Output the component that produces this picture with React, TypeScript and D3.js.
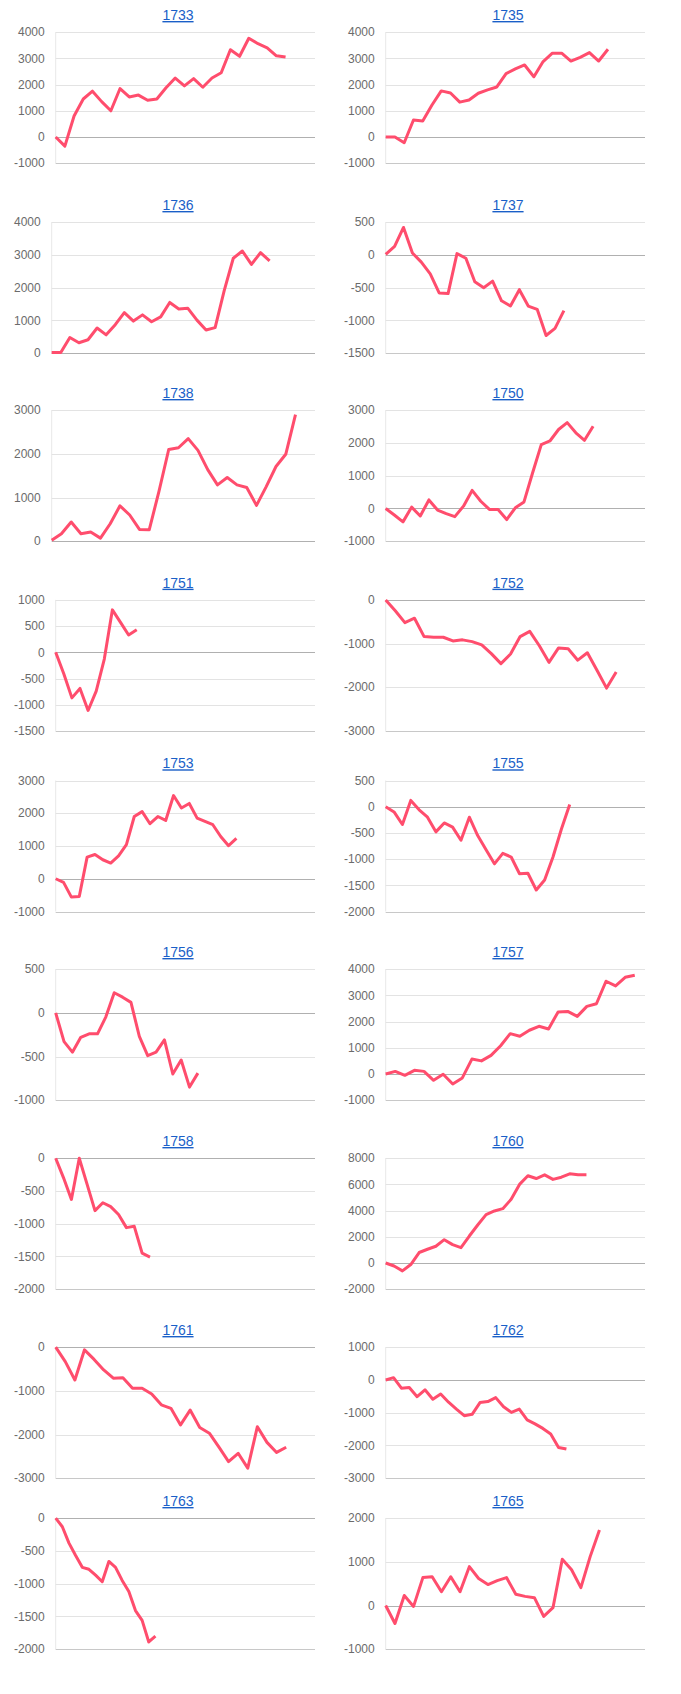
import React from "react";
import * as d3 from "d3";

// ---- data ----
const years = ["1733", "1735", "1736", "1737", "1738", "1750", "1751", "1752", "1753", "1755", "1756", "1757", "1758", "1760", "1761", "1762", "1763", "1765"];

const v1733 = [0, -350, 800, 1450, 1750, 1350, 1000, 1850, 1530, 1600, 1400, 1450, 1880, 2250, 1950, 2230, 1900, 2250, 2450, 3330, 3080, 3770, 3560, 3400, 3100, 3050];
const v1735 = [0, 0, -220, 650, 610, 1220, 1760, 1680, 1330, 1410, 1670, 1800, 1910, 2420, 2600, 2750, 2300, 2880, 3200, 3200, 2900, 3040, 3220, 2900, 3350];
const v1736 = [20, 20, 480, 320, 410, 770, 560, 870, 1240, 980, 1170, 960, 1110, 1550, 1350, 1370, 1010, 710, 780, 1910, 2900, 3120, 2710, 3070, 2820];
const v1737 = [10, 130, 420, 30, -110, -290, -580, -590, 20, -50, -410, -500, -400, -700, -780, -530, -780, -830, -1230, -1120, -850];
const v1738 = [20, 170, 440, 170, 210, 70, 400, 810, 600, 270, 260, 1140, 2100, 2140, 2350, 2080, 1640, 1290, 1460, 1290, 1230, 820, 1250, 1710, 1990, 2900];
const v1750 = [0, -200, -410, 40, -230, 260, -50, -160, -250, 70, 550, 220, -30, -30, -340, 20, 200, 1090, 1950, 2060, 2410, 2620, 2310, 2080, 2510];
const v1751 = [0, -410, -870, -690, -1110, -740, -130, 810, 570, 330, 430];
const v1752 = [0, -250, -520, -420, -840, -855, -855, -940, -915, -955, -1030, -1230, -1460, -1240, -840, -720, -1050, -1430, -1100, -1120, -1380, -1210, -1610, -2020, -1650];
const v1753 = [0, -110, -560, -540, 660, 740, 580, 480, 700, 1040, 1900, 2050, 1680, 1900, 1780, 2540, 2160, 2300, 1850, 1750, 1650, 1290, 1010, 1230];
const v1755 = [0, -100, -340, 120, -60, -200, -480, -310, -390, -640, -200, -550, -820, -1090, -890, -960, -1280, -1270, -1590, -1400, -960, -430, 40];
const v1756 = [0, -330, -450, -280, -240, -240, -45, 230, 180, 120, -270, -490, -450, -310, -700, -540, -850, -690];
const v1757 = [0, 100, -50, 140, 100, -240, -10, -380, -150, 570, 500, 710, 1080, 1540, 1440, 1670, 1820, 1720, 2370, 2390, 2200, 2580, 2680, 3540, 3360, 3690, 3770];
const v1758 = [0, -300, -630, 0, -400, -800, -680, -740, -860, -1060, -1040, -1450, -1510];
const v1760 = [0, -230, -600, -120, 800, 1050, 1280, 1780, 1400, 1170, 2060, 2900, 3690, 3970, 4150, 4860, 6000, 6660, 6450, 6730, 6380, 6550, 6810, 6730, 6730];
const v1761 = [0, -330, -750, -60, -280, -520, -710, -700, -940, -940, -1070, -1320, -1400, -1780, -1440, -1840, -1970, -2290, -2620, -2430, -2770, -1820, -2180, -2410, -2290];
const v1762 = [0, 70, -250, -230, -510, -300, -590, -430, -680, -890, -1090, -1050, -690, -660, -540, -820, -990, -890, -1220, -1340, -1480, -1650, -2060, -2110];
const v1763 = [0, -130, -380, -570, -750, -780, -870, -970, -660, -750, -950, -1120, -1410, -1560, -1890, -1800];
const v1765 = [0, -410, 230, -20, 640, 660, 315, 660, 315, 890, 620, 480, 570, 640, 260, 210, 180, -250, -50, 1060, 820, 410, 1120, 1730];

const series = [v1733, v1735, v1736, v1737, v1738, v1750, v1751, v1752, v1753, v1755, v1756, v1757, v1758, v1760, v1761, v1762, v1763, v1765];

// x-domain length (index slots across the plot) per chart
const xSpans = [28.2, 28, 29, 29.1, 27, 30, 32, 27, 33, 31, 31, 27.07, 33, 31, 27, 33, 39, 27.9];

// y axis ticks per chart
const tickMin = [-1000, -1000, 0, -1500, 0, -1000, -1500, -3000, -1000, -2000, -1000, -1000, -2000, -2000, -3000, -3000, -2000, -1000];
const tickMax = [4000, 4000, 4000, 500, 3000, 3000, 1000, 0, 3000, 500, 500, 4000, 0, 8000, 0, 1000, 0, 2000];
const tickStep = [1000, 1000, 1000, 500, 1000, 1000, 500, 1000, 1000, 500, 500, 1000, 500, 2000, 1000, 1000, 500, 1000];

// ---- layout ----
const W = 681;
const H = 1694;
const colX = [8, 338];
const rowTitleY = [15, 205, 393, 582.7, 763.3, 952, 1141, 1330, 1501];
const PLOT_H = 131;
const LABEL_FS = 12;
const LINE_COLOR = "#ff4d6d";
const FONT = "Arial, 'Liberation Sans', Helvetica, sans-serif";

function textW(s: string) {
  let w = 0;
  for (const ch of s) w += ch === "-" ? 0.333 * LABEL_FS : 0.556 * LABEL_FS;
  return w;
}

function Panel({ i }: { i: number }) {
  const col = i % 2;
  const row = Math.floor(i / 2);
  const cx = colX[col];
  const titleY = rowTitleY[row];
  const top = titleY + 17.2;
  const bottom = top + PLOT_H;
  const ticks = d3.range(tickMin[i], tickMax[i] + tickStep[i] / 2, tickStep[i]);
  const maxLabel = d3.max(ticks, (t) => textW(String(t))) as number;
  const left = cx + 6 + maxLabel + 11;
  const right = cx + 307;
  const x = d3.scaleLinear().domain([0, xSpans[i]]).range([left, right]);
  const y = d3.scaleLinear().domain([tickMin[i], tickMax[i]]).range([bottom, top]);
  const line = d3
    .line<number>()
    .x((_, k) => x(k))
    .y((d) => y(d));
  const vals = series[i];
  return (
    <g>
      <text
        x={cx + 170}
        y={titleY + 5}
        textAnchor="middle"
        fontFamily={FONT}
        fontSize={14}
        fill="#1a5fc8"
        style={{ textDecoration: "underline" }}
      >
        {years[i]}
      </text>
      <line x1={left} x2={left} y1={top} y2={bottom} stroke="#e8e8e8" strokeWidth={1} />
      {ticks.map((t) => {
        const yy = Math.round(y(t)) + 0.5;
        const isZero = t === 0;
        const isBottom = t === tickMin[i];
        const stroke = isZero ? "#b0b0b0" : isBottom ? "#c8c8c8" : "#e3e3e3";
        return (
          <g key={t}>
            <line x1={left} x2={right} y1={yy} y2={yy} stroke={stroke} strokeWidth={1} />
            <text
              x={left - 11}
              y={y(t)}
              dy="0.35em"
              textAnchor="end"
              fontFamily={FONT}
              fontSize={LABEL_FS}
              fill="#6b6b6b"
            >
              {t}
            </text>
          </g>
        );
      })}
      <path d={line(vals) || ""} fill="none" stroke={LINE_COLOR} strokeWidth={3} strokeLinejoin="round" strokeLinecap="butt" />
    </g>
  );
}

export default function App() {
  return (
    <svg
      width={W}
      height={H}
      viewBox={`0 0 ${W} ${H}`}
      style={{ position: "absolute", left: 0, top: 0, background: "#fff" }}
    >
      <rect x={0} y={0} width={W} height={H} fill="#fff" />
      {years.map((_, i) => (
        <Panel key={years[i]} i={i} />
      ))}
    </svg>
  );
}
